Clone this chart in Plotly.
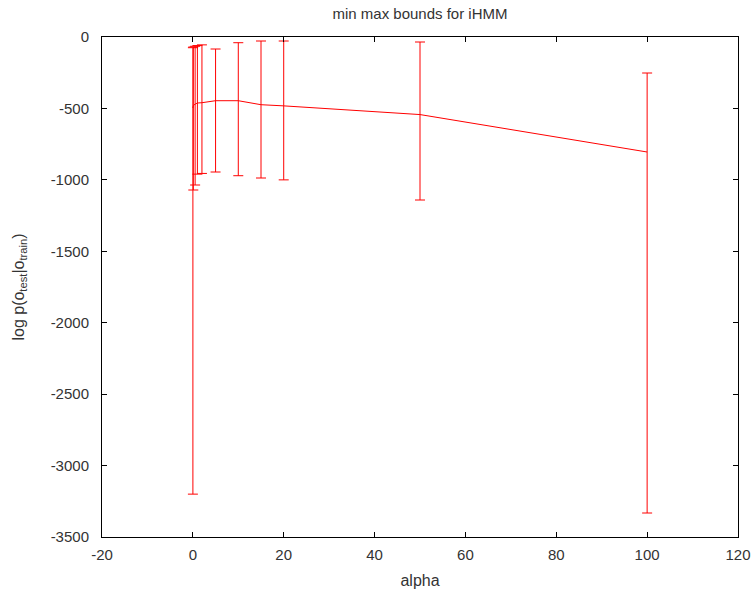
import plotly.graph_objects as go

alpha = [0.01, 0.1, 0.5, 1, 2, 5, 10, 15, 20, 50, 100]
mean_ll = [-497, -480, -470, -462, -460, -446, -446, -474, -482, -543, -805]
upper_ll = [-75, -70, -65, -60, -55, -84, -40, -28, -28, -35, -252]
lower_ll = [-3200, -1071, -1036, -960, -955, -945, -971, -987, -1000, -1141, -3332]

x_ticks = [-20, 0, 20, 40, 60, 80, 100, 120]
y_ticks = [-3500, -3000, -2500, -2000, -1500, -1000, -500, 0]

err_plus = [u - m for u, m in zip(upper_ll, mean_ll)]
err_minus = [m - l for m, l in zip(mean_ll, lower_ll)]

fig = go.Figure()
fig.add_trace(go.Scatter(
    x=alpha, y=mean_ll, mode="lines",
    line=dict(color="#ff0000", width=1),
    error_y=dict(type="data", symmetric=False, array=err_plus, arrayminus=err_minus,
                 color="#ff0000", thickness=1, width=5),
    showlegend=False,
))

font = dict(family="Liberation Sans, Arial, sans-serif", size=15, color="#333333")
axis_common = dict(
    showgrid=False, zeroline=False, showline=True, linecolor="#000000", linewidth=1,
    mirror="ticks", ticks="inside", ticklen=5, tickcolor="#000000", tickfont=font,
    automargin=False,
)
fig.update_layout(
    width=756, height=591,
    margin=dict(l=102, r=18, t=37, b=54),
    paper_bgcolor="white", plot_bgcolor="white",
    title=dict(text="min max bounds for iHMM", x=0.5, xref="paper", xanchor="center",
               y=1, yref="paper", yanchor="bottom", pad=dict(b=18), font=font),
    font=font,
    xaxis=dict(range=[-20, 120], tickvals=x_ticks, ticktext=[str(v) for v in x_ticks],
               ticklabelstandoff=4,
               title=dict(text="alpha", font=dict(family=font["family"], size=16, color="#333333"),
                          standoff=12), **axis_common),
    yaxis=dict(range=[-3500, 0], tickvals=y_ticks, ticktext=[str(v) for v in y_ticks],
               ticklabelstandoff=9,
               title=dict(text="log p(o<sub>test</sub>|o<sub>train</sub>)",
                          font=dict(family=font["family"], size=16, color="#333333"), standoff=22),
               **axis_common),
)
fig.write_html("out.html")
